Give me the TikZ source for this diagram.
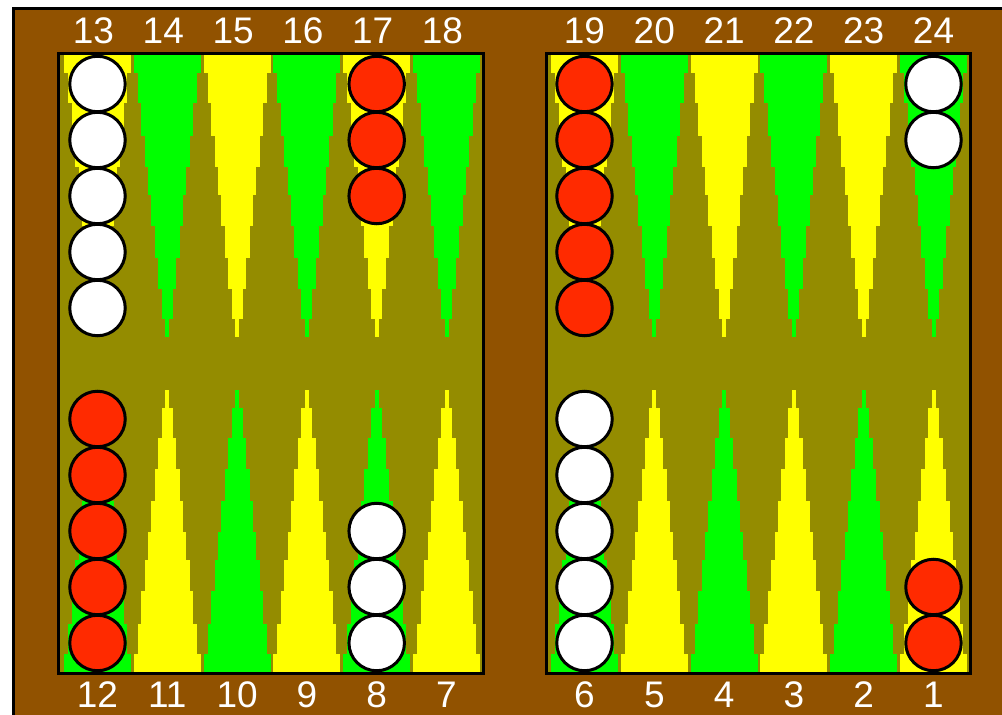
\documentclass[tikz,border=0pt]{standalone}
\usepackage{fontspec}
\setmainfont{Liberation Sans}
\definecolor{bgbrown}{RGB}{145,82,0}
\definecolor{olive}{RGB}{148,140,0}
\definecolor{ptgreen}{RGB}{0,255,0}
\definecolor{ptyellow}{RGB}{255,255,0}
\definecolor{chkred}{RGB}{255,42,0}
\newcommand\toptri[2]{%
  \foreach \a/\b/\h in {0/18/33.5,18/48/29.5,48/81/26,81/112/22.5,112/140/19,140/171/16,171/203/12.5,203/234/9,234/264/5.5,264/282/2}
    {\fill[#2] (#1-\h,55+\a) rectangle (#1+\h,55+\b);}}
\newcommand\bottri[2]{%
  \foreach \a/\b/\h in {0/18/33.5,18/48/29.5,48/81/26,81/112/22.5,112/140/19,140/171/16,171/203/12.5,203/234/9,234/264/5.5,264/282/2}
    {\fill[#2] (#1-\h,672-\a) rectangle (#1+\h,672-\b);}}
\tikzset{
  chk/.style={circle,draw=black,line width=3pt,minimum size=55.5pt,inner sep=0pt},
  wchk/.style={chk,fill=white},
  rchk/.style={chk,fill=chkred},
  lbl/.style={text=white,inner sep=0pt,font=\fontsize{37}{40}\selectfont}
}
\begin{document}
\begin{tikzpicture}[x=1pt,y=-1pt]
\useasboundingbox (0,0) rectangle (1002,715);
\fill[white] (0,0) rectangle (1002,715);
\fill[black] (12,7) rectangle (1002,715);
\fill[bgbrown] (15,10) rectangle (1002,715);
% boards
\fill[black] (57,52) rectangle (485,675);
\fill[olive] (60,55) rectangle (482,672);
\fill[black] (545,52) rectangle (972,675);
\fill[olive] (548,55) rectangle (969,672);
% points, top
\toptri{97.5}{ptyellow}
\toptri{167.3}{ptgreen}
\toptri{237.1}{ptyellow}
\toptri{306.9}{ptgreen}
\toptri{376.7}{ptyellow}
\toptri{446.5}{ptgreen}
\toptri{584.5}{ptyellow}
\toptri{654.3}{ptgreen}
\toptri{724.1}{ptyellow}
\toptri{793.9}{ptgreen}
\toptri{863.7}{ptyellow}
\toptri{933.5}{ptgreen}
% points, bottom
\bottri{97.5}{ptgreen}
\bottri{167.3}{ptyellow}
\bottri{237.1}{ptgreen}
\bottri{306.9}{ptyellow}
\bottri{376.7}{ptgreen}
\bottri{446.5}{ptyellow}
\bottri{584.5}{ptgreen}
\bottri{654.3}{ptyellow}
\bottri{724.1}{ptgreen}
\bottri{793.9}{ptyellow}
\bottri{863.7}{ptgreen}
\bottri{933.5}{ptyellow}
% checkers top
\foreach \i in {0,...,4} {\node[wchk] (p13c\i) at (97.5,84+56*\i) {};}
\foreach \i in {0,...,2} {\node[rchk] (p17c\i) at (376.7,84+56*\i) {};}
\foreach \i in {0,...,4} {\node[rchk] (p19c\i) at (584.5,84+56*\i) {};}
\foreach \i in {0,...,1} {\node[wchk] (p24c\i) at (933.5,84+56*\i) {};}
% checkers bottom
\foreach \i in {0,...,4} {\node[rchk] (p12c\i) at (97.5,643-56*\i) {};}
\foreach \i in {0,...,2} {\node[wchk] (p8c\i) at (376.7,643-56*\i) {};}
\foreach \i in {0,...,4} {\node[wchk] (p6c\i) at (584.5,643-56*\i) {};}
\foreach \i in {0,...,1} {\node[rchk] (p1c\i) at (933.5,643-56*\i) {};}
% labels top
\node[lbl] (l13) at (93.5,31) {13};
\node[lbl] (l14) at (163.3,31) {14};
\node[lbl] (l15) at (233.1,31) {15};
\node[lbl] (l16) at (302.9,31) {16};
\node[lbl] (l17) at (372.7,31) {17};
\node[lbl] (l18) at (442.5,31) {18};
\node[lbl] (l19) at (584.5,31) {19};
\node[lbl] (l20) at (654.3,31) {20};
\node[lbl] (l21) at (724.1,31) {21};
\node[lbl] (l22) at (793.9,31) {22};
\node[lbl] (l23) at (863.7,31) {23};
\node[lbl] (l24) at (933.5,31) {24};
% labels bottom
\node[lbl] (l12) at (97.5,695) {12};
\node[lbl] (l11) at (167.3,695) {11};
\node[lbl] (l10) at (237.1,695) {10};
\node[lbl] (l9) at (306.9,695) {9};
\node[lbl] (l8) at (376.7,695) {8};
\node[lbl] (l7) at (446.5,695) {7};
\node[lbl] (l6) at (584.5,695) {6};
\node[lbl] (l5) at (654.3,695) {5};
\node[lbl] (l4) at (724.1,695) {4};
\node[lbl] (l3) at (793.9,695) {3};
\node[lbl] (l2) at (863.7,695) {2};
\node[lbl] (l1) at (933.5,695) {1};
\end{tikzpicture}
\end{document}
